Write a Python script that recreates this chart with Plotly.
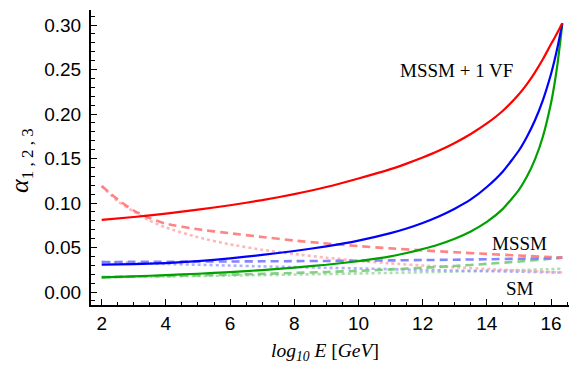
import plotly.graph_objects as go

# log10 E [GeV] grid and read-off couplings (MSSM + 1 VF, solid)
x_solid = [2, 3, 4, 5, 6, 7, 8, 9, 10, 11, 11.5, 12, 12.5, 13, 13.5, 14, 14.5, 15, 15.25, 15.5, 15.75, 16, 16.1, 16.2, 16.3, 16.35]
a3_vf = [0.0810, 0.0843, 0.0881, 0.0925, 0.0975, 0.1032, 0.1100, 0.1180, 0.1276, 0.1381, 0.1443, 0.1511, 0.1587, 0.1675, 0.1776, 0.1894, 0.2037, 0.2222, 0.2336, 0.2469, 0.2618, 0.2786, 0.2849, 0.2915, 0.2985, 0.3020]
a2_vf = [0.0307, 0.0313, 0.0325, 0.0346, 0.0377, 0.0417, 0.0461, 0.0513, 0.0578, 0.0662, 0.0714, 0.0776, 0.0849, 0.0936, 0.1040, 0.1180, 0.1355, 0.1590, 0.1745, 0.1930, 0.2160, 0.2450, 0.2590, 0.2747, 0.2924, 0.3020]
a1_vf = [0.0165, 0.0176, 0.0190, 0.0205, 0.0224, 0.0246, 0.0275, 0.0306, 0.0348, 0.0400, 0.0438, 0.0483, 0.0534, 0.0598, 0.0680, 0.0787, 0.0934, 0.1148, 0.1297, 0.1490, 0.1750, 0.2123, 0.2320, 0.2558, 0.2850, 0.3020]

# MSSM (dashed) and SM (dotted)
x_other = [2, 2.5, 3, 3.5, 4, 5, 6, 7, 8, 9, 10, 11, 12, 13, 14, 15, 16, 16.35]
a3_mssm = [0.119, 0.104, 0.0915, 0.083, 0.0768, 0.0705, 0.066, 0.0618, 0.0578, 0.0545, 0.0516, 0.049, 0.0468, 0.0447, 0.0428, 0.041, 0.0393, 0.0386]
a2_mssm = [0.0337, 0.0338, 0.0339, 0.034, 0.034, 0.0342, 0.0343, 0.0345, 0.0347, 0.0349, 0.0352, 0.0355, 0.0359, 0.0363, 0.0368, 0.0374, 0.0381, 0.0386]
a1_mssm = [0.0167, 0.0170, 0.0174, 0.0177, 0.0180, 0.0187, 0.0195, 0.0204, 0.0214, 0.0225, 0.0238, 0.0254, 0.0272, 0.0293, 0.0316, 0.0343, 0.0374, 0.0386]
a3_sm = [0.119, 0.102, 0.0905, 0.080, 0.0725, 0.0615, 0.0535, 0.0475, 0.0428, 0.0385, 0.035, 0.0322, 0.0298, 0.0278, 0.0259, 0.0241, 0.0225, 0.022]
a2_sm = [0.0337, 0.0331, 0.0326, 0.0321, 0.0316, 0.0306, 0.0297, 0.0288, 0.028, 0.0272, 0.0265, 0.0256, 0.0248, 0.0241, 0.0235, 0.0228, 0.0221, 0.0218]
a1_sm = [0.0167, 0.0169, 0.0171, 0.0173, 0.0175, 0.018, 0.0185, 0.019, 0.0196, 0.0202, 0.0208, 0.0215, 0.0222, 0.023, 0.0238, 0.0247, 0.0257, 0.0262]

labels = ["MSSM + 1 VF", "MSSM", "SM"]

fig = go.Figure()

dot = "3px,3px"
dash = "8px,5px"
for y, c in [(a1_sm, "rgba(150,210,150,0.75)"), (a2_sm, "rgba(150,150,255,0.75)"), (a3_sm, "rgba(255,160,160,0.75)")]:
    fig.add_trace(go.Scatter(x=x_other, y=y, mode="lines", line=dict(color=c, width=2.6, dash=dot, shape="spline", smoothing=0.6), showlegend=False))
for y, c in [(a1_mssm, "rgba(110,200,110,0.85)"), (a2_mssm, "rgba(120,120,255,0.9)"), (a3_mssm, "rgba(255,120,120,0.9)")]:
    fig.add_trace(go.Scatter(x=x_other, y=y, mode="lines", line=dict(color=c, width=2.6, dash=dash, shape="spline", smoothing=0.6), showlegend=False))
for y, c in [(a1_vf, "#00a000"), (a2_vf, "#0000ff"), (a3_vf, "#ff0000")]:
    fig.add_trace(go.Scatter(x=x_solid, y=y, mode="lines", line=dict(color=c, width=2.2, shape="spline", smoothing=0.5), showlegend=False))

tickfont = dict(family="Liberation Sans, Arial, sans-serif", size=19, color="black")
fig.update_xaxes(range=[1.667, 16.56], showline=True, linecolor="black", linewidth=2, mirror=False,
                 ticks="inside", ticklen=6, tickwidth=1.2, tickcolor="black", dtick=2, tick0=0,
                 minor=dict(dtick=0.5, tick0=0, ticks="inside", ticklen=3.5, tickcolor="black", tickwidth=1.2),
                 showgrid=False, zeroline=False, tickfont=tickfont)
fig.update_yaxes(range=[-0.0146, 0.3169], showline=True, linecolor="black", linewidth=2, mirror=False,
                 ticks="inside", ticklen=6, tickwidth=1.2, tickcolor="black", dtick=0.05, tick0=0,
                 tickformat=".2f", ticklabelstandoff=4,
                 minor=dict(dtick=0.01, tick0=0, ticks="inside", ticklen=3.5, tickcolor="black", tickwidth=1.2),
                 showgrid=False, zeroline=False, tickfont=tickfont)

serif = "Liberation Serif, Times New Roman, serif"
W, H = 569, 369
l, r, t, b = 91, 0, 10, 64
pw, ph = W - l - r, H - t - b

def px(xp, yp):
    return (xp - l) / pw, (H - b - yp) / ph

for txt, (xp, yp) in zip(labels, [(456, 70), (519.5, 243.5), (520, 288)]):
    ax, ay = px(xp, yp)
    fig.add_annotation(x=ax, y=ay, xref="paper", yref="paper", text=txt, showarrow=False,
                       font=dict(family=serif, size=19, color="black"), xanchor="center", yanchor="middle")

ax, ay = px(325, 352)
fig.add_annotation(x=ax, y=ay, xref="paper", yref="paper", text="<i>log</i><sub><i>10</i></sub><i> E </i>[<i>GeV</i>]",
                   showarrow=False, font=dict(family=serif, size=19.5, color="black"), xanchor="center", yanchor="middle")
ax, ay = px(21, 161)
fig.add_annotation(x=ax, y=ay, xref="paper", yref="paper",
                   text='<span style="font-size:26px"><i>α</i></span><sub><span style="font-size:17px">1 , 2 , 3</span></sub>',
                   textangle=-90, showarrow=False, font=dict(family=serif, size=22, color="black"),
                   xanchor="center", yanchor="middle")

fig.update_layout(width=W, height=H, margin=dict(l=l, r=r, t=t, b=b), plot_bgcolor="white", paper_bgcolor="white")
fig.write_html("out.html")
